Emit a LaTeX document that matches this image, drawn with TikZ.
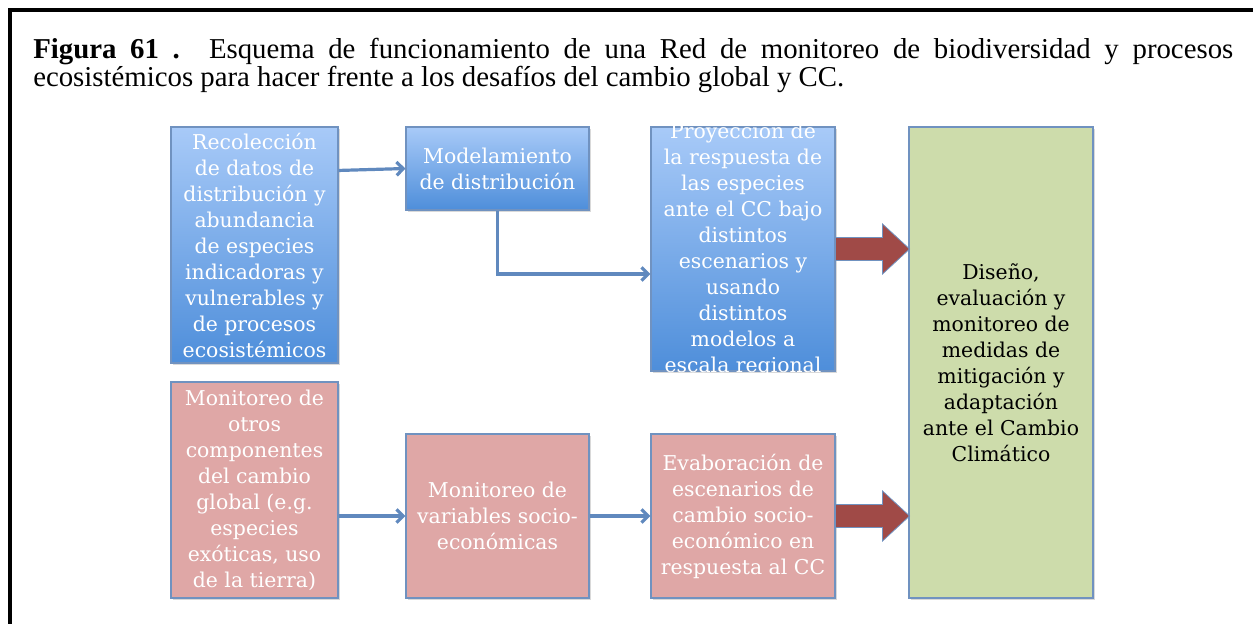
\documentclass[tikz,border=0pt]{standalone}
\usepackage{fontspec}
\setmainfont{DejaVu Serif}
\newfontfamily\capfont{Liberation Serif}
\usetikzlibrary{calc,shadows,arrows.meta}
\definecolor{blueTop}{RGB}{168,202,248}
\definecolor{blueBot}{RGB}{78,142,218}
\definecolor{pinkFill}{RGB}{223,167,166}
\definecolor{greenFill}{RGB}{205,220,171}
\definecolor{redArrow}{RGB}{160,74,71}
\definecolor{boxLine}{RGB}{112,146,192}
\definecolor{linkBlue}{RGB}{96,137,190}
\begin{document}
\begin{tikzpicture}[x=0.75pt, y=-0.75pt,
  box/.style={draw=boxLine, line width=0.8pt, align=center, text=white, inner sep=1pt,
    font=\fontsize{15.3}{19.5}\selectfont,
    drop shadow={shadow xshift=1.2pt, shadow yshift=-1.2pt, opacity=0.3}},
  bluebox/.style={box, top color=blueTop, bottom color=blueBot},
  pinkbox/.style={box, fill=pinkFill},
  greenbox/.style={box, fill=greenFill, text=black},
  link/.style={draw=linkBlue, line width=2.4pt, -{Straight Barb[length=5pt,width=10pt]}},
  bigarrow/.style={fill=redArrow, draw=boxLine, line width=0.6pt, line join=miter}]
  \useasboundingbox (0,0) rectangle (1253,624);
  % frame and caption
  \draw[line width=3pt, line join=miter] (1253,10) -- (10,10) -- (10,624);
  \node[anchor=north west, inner sep=0pt, text width=900pt, align=justify,
        font=\capfont\fontsize{21.6}{21}\selectfont] (caption) at (33,38)
    {\textbf{Figura 61 .} Esquema de funcionamiento de una Red de monitoreo de biodiversidad y procesos\linebreak
     ecosistémicos para hacer frente a los desafíos del cambio global y CC.};
  % upper row
  \node[bluebox, minimum width=125.25pt, minimum height=177pt] (recoleccion) at (254.5,245)
    {Recolección\\de datos de\\distribución y\\abundancia\\de especies\\indicadoras y\\vulnerables y\\de procesos\\ecosistémicos};
  \node[bluebox, minimum width=137.25pt, minimum height=62.25pt] (modelamiento) at (497.5,168.5)
    {Modelamiento\\de distribución};
  \node[bluebox, minimum width=138pt, minimum height=183pt] (proyeccion) at (743,249) {};
  \node[align=center, text=white, inner sep=0pt, font=\fontsize{15.3}{19.5}\selectfont] (proytext) at (743,250)
    {Proyección de\\la respuesta de\\las especies\\ante el CC bajo\\distintos\\escenarios y\\usando\\distintos\\modelos a\\escala regional};
  % lower row
  \node[pinkbox, minimum width=125.25pt, minimum height=162pt] (otros) at (254.5,490)
    {Monitoreo de\\otros\\componentes\\del cambio\\global (e.g.\\especies\\exóticas, uso\\de la tierra)};
  \node[pinkbox, minimum width=137.25pt, minimum height=123pt] (variables) at (497.5,516)
    {Monitoreo de\\variables socio-\\económicas};
  \node[pinkbox, minimum width=138pt, minimum height=123pt] (escenarios) at (743,516)
    {Evaboración de\\escenarios de\\cambio socio-\\económico en\\respuesta al CC};
  % right column
  \node[greenbox, minimum width=138pt, minimum height=353.25pt] (diseno) at (1001,362.5)
    {Diseño,\\evaluación y\\monitoreo de\\medidas de\\mitigación y\\adaptación\\ante el Cambio\\Climático};
  % connectors
  \draw[link] ($(recoleccion.north east)+(0,44)$) -- (modelamiento.west);
  \draw[link] (modelamiento.south) |- ($(proyeccion.west)+(0,25)$);
  \draw[link] (variables.west -| otros.east) -- (variables.west);
  \draw[link] (variables.east) -- (escenarios.west);
  \draw[bigarrow] ($(proyeccion.east)+(0,-11.5)$) -- ++(47,0) -- ++(0,-13.5) -- ++(27,25)
    -- ++(-27,25) -- ++(0,-13.5) -- ++(-47,0) -- cycle;
  \draw[bigarrow] ($(escenarios.east)+(0,-11.5)$) -- ++(47,0) -- ++(0,-13.5) -- ++(27,25)
    -- ++(-27,25) -- ++(0,-13.5) -- ++(-47,0) -- cycle;
\end{tikzpicture}
\end{document}
